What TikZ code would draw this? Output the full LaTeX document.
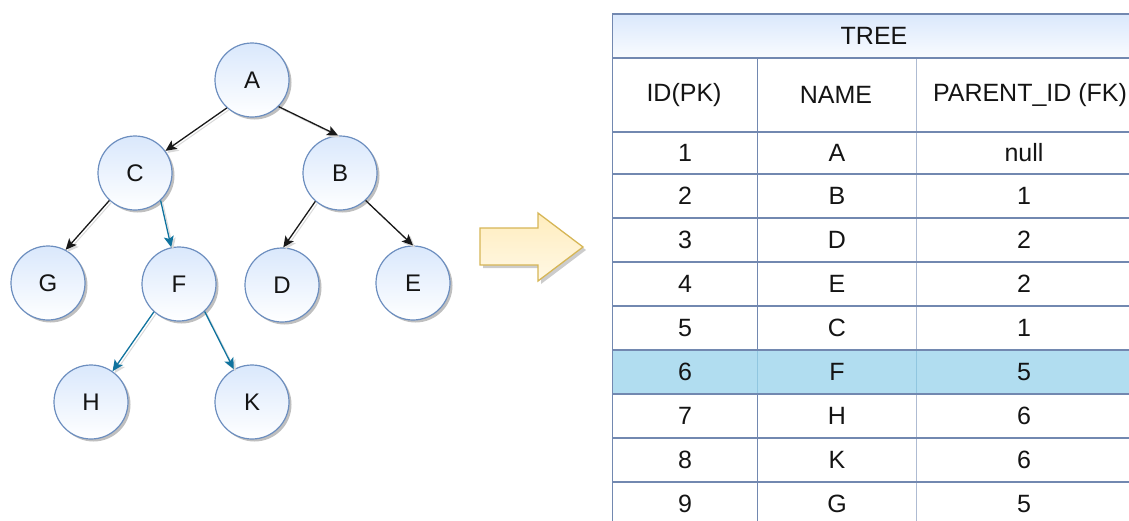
\documentclass[tikz,border=0pt]{standalone}
\usepackage{fontspec}
\setmainfont{Liberation Sans}
\usetikzlibrary{arrows.meta,shadows}

\definecolor{nodeblue}{HTML}{DAE8FC}
\definecolor{nodeline}{HTML}{6C8EBF}
\definecolor{linkteal}{HTML}{10739E}
\definecolor{arrowfill}{HTML}{FFEDBE}
\definecolor{arrowline}{HTML}{D6B656}
\definecolor{rowhl}{HTML}{B1DDF0}
\definecolor{gridline}{HTML}{7288B0}
\definecolor{gridsoft}{HTML}{AEBBD2}
\definecolor{gridhl}{HTML}{90C6E0}

\tikzset{
  treefont/.style={font=\fontsize{24}{28}\selectfont, text=black!92},
  cellfont/.style={font=\fontsize{25}{29}\selectfont, text=black!92},
  treenode/.style={circle, minimum size=74pt, inner sep=0pt, treefont,
    draw=nodeline, line width=1.2pt, top color=nodeblue, bottom color=white,
    drop shadow={shadow xshift=2.5pt, shadow yshift=-2.5pt, opacity=0.25, fill=black}},
  link/.style={line width=1.3pt, -{Stealth[length=11pt,width=10pt,inset=2.5pt]},
    preaction={draw=black!15, line width=1pt,
      transform canvas={xshift=2pt,yshift=-2pt}}},
  blacklink/.style={link, draw=black!90},
  teallink/.style={link, draw=linkteal},
  gridrule/.style={draw=gridline, line width=1.5pt},
  cell/.style={cellfont, inner sep=0pt, anchor=center},
}

\begin{document}
\begin{tikzpicture}[x=1pt, y=-1pt]
  \useasboundingbox (0,0) rectangle (1129,520);
  \clip (0,0) rectangle (1129,520);

  % ---- tree ----
  \node[treenode] (A) at (252,80)  {A};
  \node[treenode] (C) at (135,173) {C};
  \node[treenode] (B) at (340,173) {B};
  \node[treenode] (G) at (48,283)  {G};
  \node[treenode] (F) at (179,284) {F};
  \node[treenode] (D) at (282,285) {D};
  \node[treenode] (E) at (413,283) {E};
  \node[treenode] (H) at (91,402)  {H};
  \node[treenode] (K) at (252,402) {K};

  \draw[blacklink] (A.228) -- (C.36);
  \draw[blacklink] (A.315) -- (B.93);
  \draw[blacklink] (C.227) -- (G.62);
  \draw[teallink]  (C.313) -- (F.102);
  \draw[blacklink] (B.229) -- (D.88);
  \draw[blacklink] (B.313) -- (E.90);
  \draw[teallink]  (F.228) -- (H.55);
  \draw[teallink]  (F.313) -- (K.119);

  % ---- block arrow ----
  \path[draw=arrowline, line width=1.3pt, line join=miter,
        top color=arrowfill, bottom color=arrowfill!40,
        drop shadow={shadow xshift=3pt, shadow yshift=-3pt, opacity=0.2, fill=black}]
    (480,228) -- (538,228) -- (538,213) -- (583,247) -- (538,281)
    -- (538,265) -- (480,265) -- cycle;

  % ---- table ----
  \fill[top color=nodeblue, bottom color=nodeblue!15] (612.5,14) rectangle (1136,58);
  \fill[rowhl] (612.5,350) rectangle (1136,394);

  % column rules
  \draw[gridrule] (757.5,58) -- (757.5,350);
  \draw[gridrule] (757.5,394) -- (757.5,530);
  \draw[draw=gridsoft, line width=1.5pt] (916.5,58) -- (916.5,350);
  \draw[draw=gridsoft, line width=1.5pt] (916.5,394) -- (916.5,530);
  \draw[draw=gridhl, line width=1.5pt] (757.5,350) -- (757.5,394);
  \draw[draw=gridhl, line width=1.5pt] (916.5,350) -- (916.5,394);

  % row rules
  \foreach \y in {58,132,174,218,262,306,350,394,438,482}
    \draw[gridrule] (612.5,\y) -- (1136,\y);

  % outer frame
  \draw[gridrule] (612.5,530) -- (612.5,14) -- (1136,14) -- (1136,530);

  % header
  \node[cell] (title) at (874,36) {TREE};
  \node[cell] (hid)   at (684,95) {ID(PK)};
  \node[cell] (hname) at (836,95) {NAME};
  \node[cell] (hpid)  at (1030,95) {PARENT\_ID (FK)};

  % records
  \foreach \i/\n/\p/\y in {1/A/null/153, 2/B/1/196, 3/D/2/240, 4/E/2/284,
                           5/C/1/328, 6/F/5/372, 7/H/6/416, 8/K/6/460, 9/G/5/504} {
    \node[cell] (id\i)  at (685,\y)  {\i};
    \node[cell] (nm\i)  at (837,\y)  {\n};
    \node[cell] (pid\i) at (1024,\y) {\p};
  }
\end{tikzpicture}
\end{document}
